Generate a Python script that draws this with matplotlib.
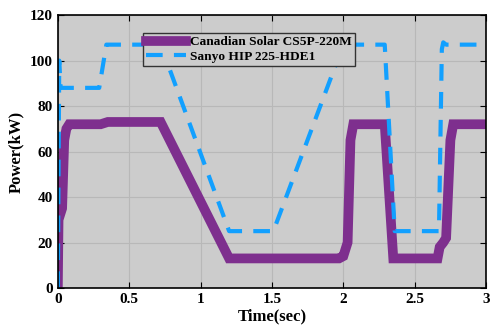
import matplotlib.pyplot as plt

# Canadian Solar CS5P-220M
t_cs = [0, 0.005, 0.03, 0.045, 0.06, 0.08, 0.3, 0.35, 0.72, 1.2, 1.97, 2.0,
        2.03, 2.05, 2.07, 2.29, 2.35, 2.66, 2.675, 2.70, 2.72, 2.75, 2.77, 3.0]
p_cs = [0, 30, 35, 65, 70, 72, 72, 73, 73, 13, 13, 14,
        20, 65, 72, 72, 13, 13, 18, 20, 22, 65, 72, 72]

# Sanyo HIP 225-HDE1
t_sa = [0, 0.01, 0.02, 0.05, 0.29, 0.34, 0.72, 1.2, 1.51, 2.0, 2.29, 2.36,
        2.67, 2.69, 2.70, 2.72, 3.0]
p_sa = [0, 100, 88, 88, 88, 107, 107, 25, 25, 107, 107, 25,
        25, 105, 108, 107, 107]

plt.rcParams['font.family'] = ['Liberation Serif', 'DejaVu Serif']
plt.rcParams['font.weight'] = 'bold'

fig = plt.figure(figsize=(4.9, 3.28), dpi=100)
ax = fig.add_axes([0.118, 0.122, 0.874, 0.832])
ax.set_facecolor('#cccccc')

ax.plot(t_cs, p_cs, color='#7e2f8e', lw=7, solid_joinstyle='miter',
        label='Canadian Solar CS5P-220M')
ax.plot(t_sa, p_sa, color='#12a0ff', lw=3, dashes=(4, 2.7),
        label='Sanyo HIP 225-HDE1')

ax.set_xlim(0, 3)
ax.set_ylim(0, 120)
ax.set_xticks([0, 0.5, 1, 1.5, 2, 2.5, 3])
ax.set_xticklabels(['0', '0.5', '1', '1.5', '2', '2.5', '3'])
ax.set_yticks(range(0, 121, 20))
ax.grid(True, color='#b8b8b8', lw=0.8)
ax.set_axisbelow(True)
ax.tick_params(direction='in', top=True, right=True, labelsize=11, length=4)
for lbl in ax.get_xticklabels() + ax.get_yticklabels():
    lbl.set_fontweight('bold')
for s in ax.spines.values():
    s.set_linewidth(1.2)

ax.set_xlabel('Time(sec)', fontsize=12, fontweight='bold', labelpad=2)
ax.set_ylabel('Power(kW)', fontsize=12, fontweight='bold', labelpad=4)

leg = ax.legend(loc='upper left', bbox_to_anchor=(0.198, 0.935),
                prop={'weight': 'bold', 'size': 9.6}, frameon=True,
                fancybox=False, edgecolor='#333333', framealpha=1,
                facecolor='#cccccc', handlelength=3.0, borderpad=0.25,
                labelspacing=0.15, handletextpad=0.3, borderaxespad=0)
leg.get_frame().set_linewidth(1.0)

fig.savefig('out.png', dpi=100)
